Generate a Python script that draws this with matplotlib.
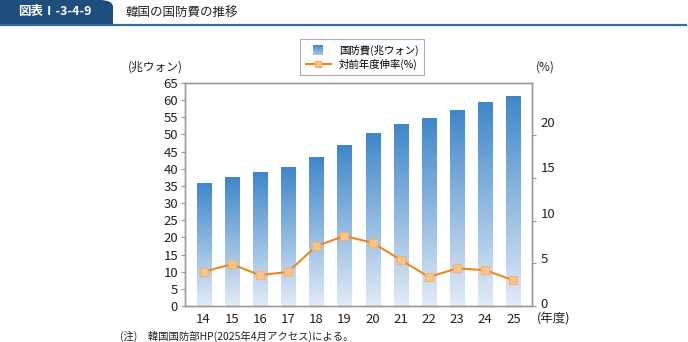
import matplotlib
matplotlib.use("Agg")
import matplotlib.pyplot as plt
import numpy as np
from matplotlib.patches import FancyBboxPatch, Rectangle
from matplotlib.lines import Line2D
from matplotlib.colors import LinearSegmentedColormap
from matplotlib.legend_handler import HandlerPatch
from matplotlib.transforms import ScaledTranslation

plt.rcParams['font.family'] = ['Noto Sans CJK JP', 'DejaVu Sans']

years = ['14', '15', '16', '17', '18', '19', '20', '21', '22', '23', '24', '25']
budget = [35.7, 37.5, 38.8, 40.3, 43.2, 46.7, 50.2, 52.8, 54.6, 57.0, 59.4, 61.2]
growth = [4.0, 4.9, 3.6, 4.0, 7.0, 8.2, 7.4, 5.4, 3.4, 4.4, 4.2, 3.0]
left_ticks = list(range(0, 66, 5))
right_ticks = [0, 5, 10, 15, 20]

W, H = 688, 342
fig = plt.figure(figsize=(W / 100, H / 100), dpi=100)

# header
navy = '#1d4e7e'
tab = FancyBboxPatch((0, 1 - 24 / H), 113 / W, 24 / H,
                     boxstyle="round,pad=0,rounding_size=0.02",
                     transform=fig.transFigure, facecolor=navy, edgecolor='none')
fig.patches.append(tab)
fig.patches.append(Rectangle((0, 1 - 24 / H), 100 / W, 24 / H, transform=fig.transFigure,
                             facecolor=navy, edgecolor='none'))
fig.patches.append(Rectangle((0, 1 - 24 / H), 113 / W, 12 / H, transform=fig.transFigure,
                             facecolor=navy, edgecolor='none'))
fig.lines.append(Line2D([0, 686 / W], [1 - 24.5 / H] * 2, transform=fig.transFigure,
                        color='#2f6fb0', lw=1.6))
fig.text(55 / W, 1 - 12 / H, '図表Ⅰ-3-4-9', color='white', fontsize=9, fontweight='bold',
         ha='center', va='center')
fig.text(125 / W, 1 - 12 / H, '韓国の国防費の推移', color='#222222', fontsize=9,
         ha='left', va='center')

ax = fig.add_axes([185 / W, 1 - 306 / H, (532 - 185) / W, (306 - 83) / H])
ax2 = ax.twinx()

x = np.arange(len(years))
bars = ax.bar(x, budget, width=0.5, color='none', edgecolor='none', zorder=2)
cmap = LinearSegmentedColormap.from_list('g', ['#e2ebf7', '#3f87ca'])
grad = np.linspace(0, 1, 256).reshape(-1, 1)
for b in bars:
    x0, y0 = b.get_x(), b.get_y()
    ax.imshow(grad, extent=[x0, x0 + b.get_width(), y0, y0 + b.get_height()],
              origin='lower', cmap=cmap, aspect='auto', zorder=2)

ax.set_xlim(-0.66, len(years) - 1 + 0.66)
ax.set_ylim(0, 65)
ax.set_yticks(left_ticks)
ax.set_xticks(x)
ax.set_xticklabels(years)

ax2.plot(x, growth, color='#f0871a', lw=1.5, marker='s', markersize=5.5,
         markerfacecolor='#f9c488', markeredgecolor='#f7b36a', markeredgewidth=0.8, zorder=3)
ax2.set_ylim(0, 26.1)
ax2.set_yticks(right_ticks)

for a in (ax, ax2):
    for s in a.spines.values():
        s.set_color('#9a9a9a')
        s.set_linewidth(1.0)
ax.tick_params(axis='y', length=3, color='#9a9a9a', labelsize=9.5, pad=2, labelcolor='#222222')
ax.tick_params(axis='x', length=0, labelsize=9.5, pad=5, labelcolor='#222222')
ax2.tick_params(axis='y', length=3, color='#9a9a9a', labelsize=9.5, pad=3, labelcolor='#222222')
# the reference's right-axis labels sit slightly above their ticks
for t, v in zip(ax2.get_yticklabels(), right_ticks):
    t.set_transform(t.get_transform() + ScaledTranslation(0, (3 + v * 0.5) / 100, fig.dpi_scale_trans))

fig.text(155 / W, 1 - 67 / H, '(兆ウォン)', fontsize=8.5, ha='center', va='center', color='#222222')
fig.text(545 / W, 1 - 67 / H, '(%)', fontsize=8.5, ha='center', va='center', color='#222222')
fig.text(537 / W, 1 - 319 / H, '(年度)', fontsize=9, ha='left', va='center', color='#222222')
fig.text(120 / W, 1 - 336 / H, '(注)　韓国国防部HP(2025年4月アクセス)による。', fontsize=7.5,
         ha='left', va='center', color='#222222')


class SquareGradHandler(HandlerPatch):
    def create_artists(self, legend, orig_handle, xdescent, ydescent, width, height, fontsize, trans):
        s = height * 1.1
        cx = -xdescent + width / 2
        cy = -ydescent + height / 2
        artists = []
        n = 12
        top = np.array([0x3f, 0x87, 0xca]) / 255
        bot = np.array([0xa8, 0xc8, 0xec]) / 255
        for i in range(n):
            f = (i + 0.5) / n
            c = bot * (1 - f) + top * f
            r = Rectangle((cx - s / 2, cy - s / 2 + s * i / n), s, s / n + 0.3,
                          facecolor=c, edgecolor='none', transform=trans)
            artists.append(r)
        return artists


handles = [Rectangle((0, 0), 1, 1, facecolor='#5e9ad6', edgecolor='none'),
           Line2D([], [], color='#f0871a', lw=1.5, marker='s', markersize=5,
                  markerfacecolor='#f9c488', markeredgecolor='#f7b36a')]
leg = fig.legend(handles, ['国防費(兆ウォン)', '対前年度伸率(%)'], loc='upper center',
                 bbox_to_anchor=(362 / W, 1 - 34 / H), fontsize=7.5, frameon=True,
                 fancybox=False, edgecolor='#9a9a9a', handlelength=2.4, handleheight=0.9,
                 borderpad=0.5, labelspacing=0.3,
                 handler_map={Rectangle: SquareGradHandler()})
leg.get_frame().set_linewidth(0.8)

fig.savefig('out.png', dpi=100)
